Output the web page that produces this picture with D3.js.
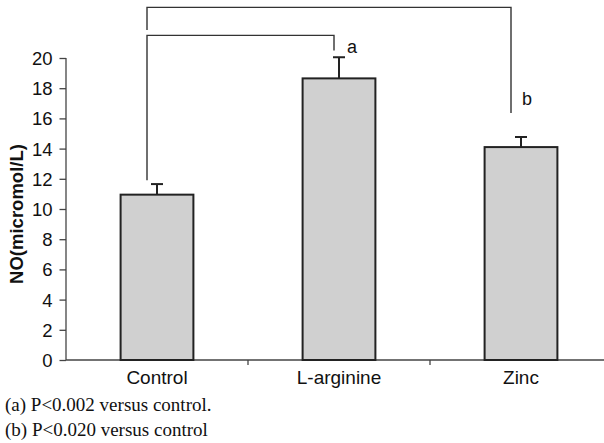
<!DOCTYPE html>
<html><head><meta charset="utf-8">
<script src="https://cdn.jsdelivr.net/npm/d3@7"></script>
<style>body{margin:0;background:#fff}</style>
</head><body>
<script>
const categories = ["Control", "L-arginine", "Zinc"];
const values = [10.95, 18.65, 14.1];
const errors = [0.7, 1.4, 0.67];
const yTicks = [0, 2, 4, 6, 8, 10, 12, 14, 16, 18, 20];
const sigLabels = ["", "a", "b"];
const footnotes = ["(a) P<0.002 versus control.", "(b) P<0.020 versus control"];
const yTitle = "NO(micromol/L)";

const W = 604, H = 443;
const svg = d3.select("body").append("svg").attr("width", W).attr("height", H);
const x = d3.scaleBand().domain(categories).range([66, 612]);
const y = d3.scaleLinear().domain([0, 20]).range([360, 58]);
const font = "'Liberation Sans', Arial, sans-serif";
const axisColor = "#444";

// y axis
const ya = svg.append("g").attr("transform", "translate(66,0)")
  .call(d3.axisLeft(y).tickValues(yTicks).tickSize(6.5).tickPadding(7).tickFormat(d3.format("d")));
ya.select(".domain").attr("stroke", axisColor).attr("stroke-width", 1.3).attr("d", "M0,58V360");
ya.selectAll(".tick line").attr("stroke", axisColor).attr("stroke-width", 1.3);
ya.selectAll("text").attr("font-family", font).attr("font-size", 18.5).attr("fill", "#111").attr("dy", "0.35em");

// x axis
const xa = svg.append("g").attr("transform", "translate(0,360)");
xa.append("line").attr("x1", 66).attr("x2", 612).attr("stroke", axisColor).attr("stroke-width", 1.3);
categories.forEach((c, i) => {
  if (i > 0) xa.append("line").attr("x1", x(c)).attr("x2", x(c)).attr("y1", 0).attr("y2", 5).attr("stroke", axisColor).attr("stroke-width", 1.3);
});
xa.selectAll("text.cat").data(categories).join("text").attr("class", "cat")
  .attr("x", d => x(d) + x.bandwidth() / 2).attr("y", 23.5)
  .attr("text-anchor", "middle").attr("font-family", font).attr("font-size", 19).attr("fill", "#111")
  .text(d => d);

// bars
const bw = x.bandwidth() * 0.4;
const cx = d => x(d) + x.bandwidth() / 2;
svg.selectAll("rect.bar").data(categories).join("rect").attr("class", "bar")
  .attr("x", d => cx(d) - bw / 2).attr("width", bw)
  .attr("y", (d, i) => y(values[i])).attr("height", (d, i) => y(0) - y(values[i]))
  .attr("fill", "#d0d0d0").attr("stroke", "#222").attr("stroke-width", 2);

// error bars
categories.forEach((c, i) => {
  const top = y(values[i] + errors[i]);
  svg.append("line").attr("x1", cx(c)).attr("x2", cx(c)).attr("y1", y(values[i])).attr("y2", top).attr("stroke", "#222").attr("stroke-width", 2);
  svg.append("line").attr("x1", cx(c) - 6).attr("x2", cx(c) + 6).attr("y1", top).attr("y2", top).attr("stroke", "#222").attr("stroke-width", 2);
});

// significance brackets
const bc = "#333";
const c0 = cx(categories[0]) - 10;
svg.append("path").attr("fill", "none").attr("stroke", bc).attr("stroke-width", 1.4)
  .attr("d", `M${c0},${y(11.9)}V${y(21.5)}H${cx(categories[1]) - 5}V${y(20.5)}`);
svg.append("path").attr("fill", "none").attr("stroke", bc).attr("stroke-width", 1.4)
  .attr("d", `M${c0},${y(21.85)}V${y(23.35)}H${cx(categories[2]) - 10}V${y(16.35)}`);
svg.append("text").attr("x", cx(categories[1]) + 8).attr("y", y(20.3)).attr("font-family", font).attr("font-size", 18).attr("fill", "#111").text(sigLabels[1]);
svg.append("text").attr("x", cx(categories[2]) + 1).attr("y", y(16.9)).attr("font-family", font).attr("font-size", 18).attr("fill", "#111").text(sigLabels[2]);

// y title
svg.append("text").attr("transform", `translate(23,214) rotate(-90)`)
  .attr("text-anchor", "middle").attr("font-family", font).attr("font-size", 18.5).attr("font-weight", "bold").attr("fill", "#111")
  .text(yTitle);

// footnotes
footnotes.forEach((t, i) => {
  svg.append("text").attr("x", 5).attr("y", 411 + i * 25).attr("font-family", "'Liberation Serif', 'Times New Roman', serif")
    .attr("font-size", 19).attr("fill", "#111").text(t);
});
</script>
</body></html>
